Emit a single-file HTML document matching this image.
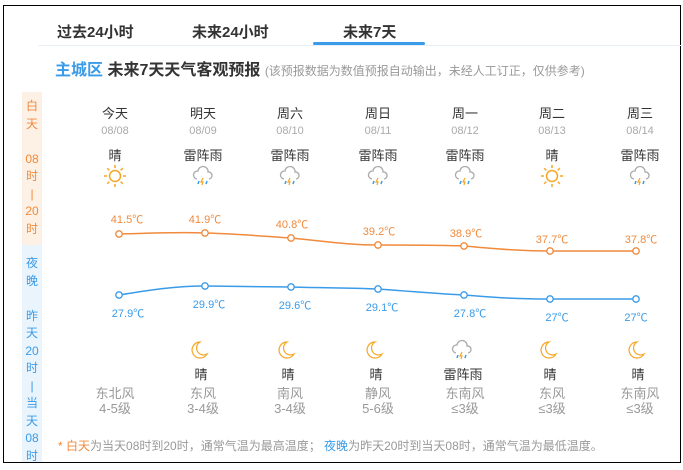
<!DOCTYPE html><html><head><meta charset="utf-8"><style>
body{margin:0;width:683px;height:470px;background:#fff;position:relative;overflow:hidden;font-family:"Liberation Sans","Noto Sans CJK SC",sans-serif}
.a{position:absolute;white-space:nowrap}
.c{position:absolute;transform:translateX(-50%);text-align:center;white-space:nowrap}
</style></head><body>
<div class="a" style="left:3px;top:5px;width:676px;height:456px;border:1px solid #000"></div>
<div class="a" style="left:38px;top:45px;width:645px;height:1px;background:#e8eef5"></div>
<div class="a" style="left:57px;top:21px;font-size:15px;font-weight:bold;color:#333">过去24小时</div>
<div class="a" style="left:192px;top:21px;font-size:15px;font-weight:bold;color:#333">未来24小时</div>
<div class="a" style="left:343px;top:21px;font-size:15px;font-weight:bold;color:#333">未来7天</div>
<div class="a" style="left:313px;top:42px;width:112px;height:3px;background:#3a9be8;border-radius:2px"></div>
<div class="a" style="left:55px;top:56px;font-size:16px;font-weight:bold;color:#3a9be8">主城区 <span style="color:#333">未来7天天气客观预报</span> <span style="font-size:12px;font-weight:normal;color:#999">(该预报数据为数值预报自动输出，未经人工订正，仅供参考)</span></div>
<div class="a" style="left:22px;top:92px;width:20px;height:153px;background:#fdf1e6"></div>
<div class="a" style="left:22px;top:245px;width:20px;height:217px;background:#eaf4fd"></div>
<div class="a" style="left:22px;top:98px;width:20px;text-align:center;font-size:12px;line-height:17.5px;color:#f08a3c">白<br>天<br><br>08<br>时<br>|<br>20<br>时</div>
<div class="a" style="left:22px;top:255px;width:20px;text-align:center;font-size:12px;line-height:17.5px;color:#3a9be8">夜<br>晚<br><br>昨<br>天<br>20<br>时<br>|<br>当<br>天<br>08<br>时</div>
<div id="cols"></div>
<svg class="a" style="left:0;top:0" width="683" height="470">
<path d="M119,234 C160,233 180,232 205,233 C240,234 260,236 291,238 C330,242 350,245 378,245 C420,245 440,245 464,246 C500,249 520,251 550,251 L636,251" fill="none" stroke="#f08a3c" stroke-width="1.5"/>
<path d="M119,295 C150,290 175,286 205,286 L291,287 C330,288 350,288 378,289 C420,292 440,294 464,295 C500,298 520,299 550,299 L636,299" fill="none" stroke="#3a9be8" stroke-width="1.5"/>
<g fill="#fff" stroke-width="1.3">
<g stroke="#f08a3c"><circle cx="119" cy="234" r="3.2"/><circle cx="205" cy="233" r="3.2"/><circle cx="291" cy="238" r="3.2"/><circle cx="378" cy="245" r="3.2"/><circle cx="464" cy="246" r="3.2"/><circle cx="550" cy="251" r="3.2"/><circle cx="636" cy="251" r="3.2"/></g>
<g stroke="#3a9be8"><circle cx="119" cy="295" r="3.2"/><circle cx="205" cy="286" r="3.2"/><circle cx="291" cy="287" r="3.2"/><circle cx="378" cy="289" r="3.2"/><circle cx="464" cy="295" r="3.2"/><circle cx="550" cy="299" r="3.2"/><circle cx="636" cy="299" r="3.2"/></g>
</g>
</svg>
<div class="a" style="left:58px;top:437px;font-size:12px;color:#999"><span style="color:#f08a3c">* 白天</span>为当天08时到20时，通常气温为最高温度；&nbsp;<span style="color:#3a9be8">夜晚</span>为昨天20时到当天08时，通常气温为最低温度。</div>
<script>
var X=[115,203,290,378,465,552,640],
d=["今天","明天","周六","周日","周一","周二","周三"],
dt=["08/08","08/09","08/10","08/11","08/12","08/13","08/14"],
w=["晴","雷阵雨","雷阵雨","雷阵雨","雷阵雨","晴","雷阵雨"],
hi=["41.5℃","41.9℃","40.8℃","39.2℃","38.9℃","37.7℃","37.8℃"],
hy=[211,211,216,223,225,231,231],hx=[127,205,292,379,466,552,641],
lo=["27.9℃","29.9℃","29.6℃","29.1℃","27.8℃","27℃","27℃"],
ly=[305,296,297,299,305,309,309],lx=[128,209,295,382,470,557,636],
nw=["","晴","晴","晴","雷阵雨","晴","晴"],
wd=["东北风","东风","南风","静风","东南风","东风","东南风"],
wl=["4-5级","3-4级","3-4级","5-6级","≤3级","≤3级","≤3级"];
var sun='<svg width="24" height="24" viewBox="-12 -12 24 24"><circle r="5.5" fill="none" stroke="#f5a623" stroke-width="1.5"/><g stroke="#f5a623" stroke-width="1.5">'+[0,45,90,135,180,225,270,315].map(a=>'<line x1="0" y1="-8" x2="0" y2="-11" transform="rotate('+a+')"/>').join('')+'</g></svg>';
var rain='<svg width="24" height="24" viewBox="0 0 24 24"><path d="M6,15 a4,4 0 0 1 1,-8 a5,5 0 0 1 10,1 a3.5,3.5 0 0 1 1,7" fill="none" stroke="#aaa" stroke-width="1.3"/><path d="M12,14 l-2,4 h2 l-1,3" stroke="#f5a623" fill="none" stroke-width="1.2"/><line x1="8" y1="17" x2="7" y2="20" stroke="#3a9be8" stroke-width="1.5"/><line x1="16" y1="17" x2="15" y2="20" stroke="#3a9be8" stroke-width="1.5"/></svg>';
var moon='<svg width="24" height="24" viewBox="0 0 24 24"><path d="M12,4 a8,8 0 1 0 7,12 a6.5,6.5 0 0 1 -7,-12z" fill="none" stroke="#f5a623" stroke-width="1.2"/></svg>';
var h='';
for(var i=0;i<7;i++){var x=X[i];
h+='<div class="c" style="left:'+x+'px;top:103px;font-size:13px;color:#333">'+d[i]+'</div>';
h+='<div class="c" style="left:'+x+'px;top:125px;font-size:11px;color:#aaa">'+dt[i]+'</div>';
h+='<div class="c" style="left:'+x+'px;top:145px;font-size:13px;color:#333">'+w[i]+'</div>';
h+='<div class="c" style="left:'+x+'px;top:164px;">'+(w[i]=="晴"?sun:rain)+'</div>';
h+='<div class="c" style="left:'+hx[i]+'px;top:'+hy[i]+'px;font-size:11px;color:#f08a3c">'+hi[i]+'</div>';
h+='<div class="c" style="left:'+lx[i]+'px;top:'+ly[i]+'px;font-size:11px;color:#3a9be8">'+lo[i]+'</div>';
if(nw[i]){h+='<div class="c" style="left:'+(x-3)+'px;top:338px;">'+(nw[i]=="晴"?moon:rain)+'</div>';
h+='<div class="c" style="left:'+(x-2)+'px;top:364px;font-size:13px;color:#333">'+nw[i]+'</div>';}
h+='<div class="c" style="left:'+x+'px;top:386px;font-size:13px;line-height:15px;color:#999">'+wd[i]+'<br>'+wl[i]+'</div>';}
document.getElementById('cols').innerHTML=h;
</script>
</body></html>
